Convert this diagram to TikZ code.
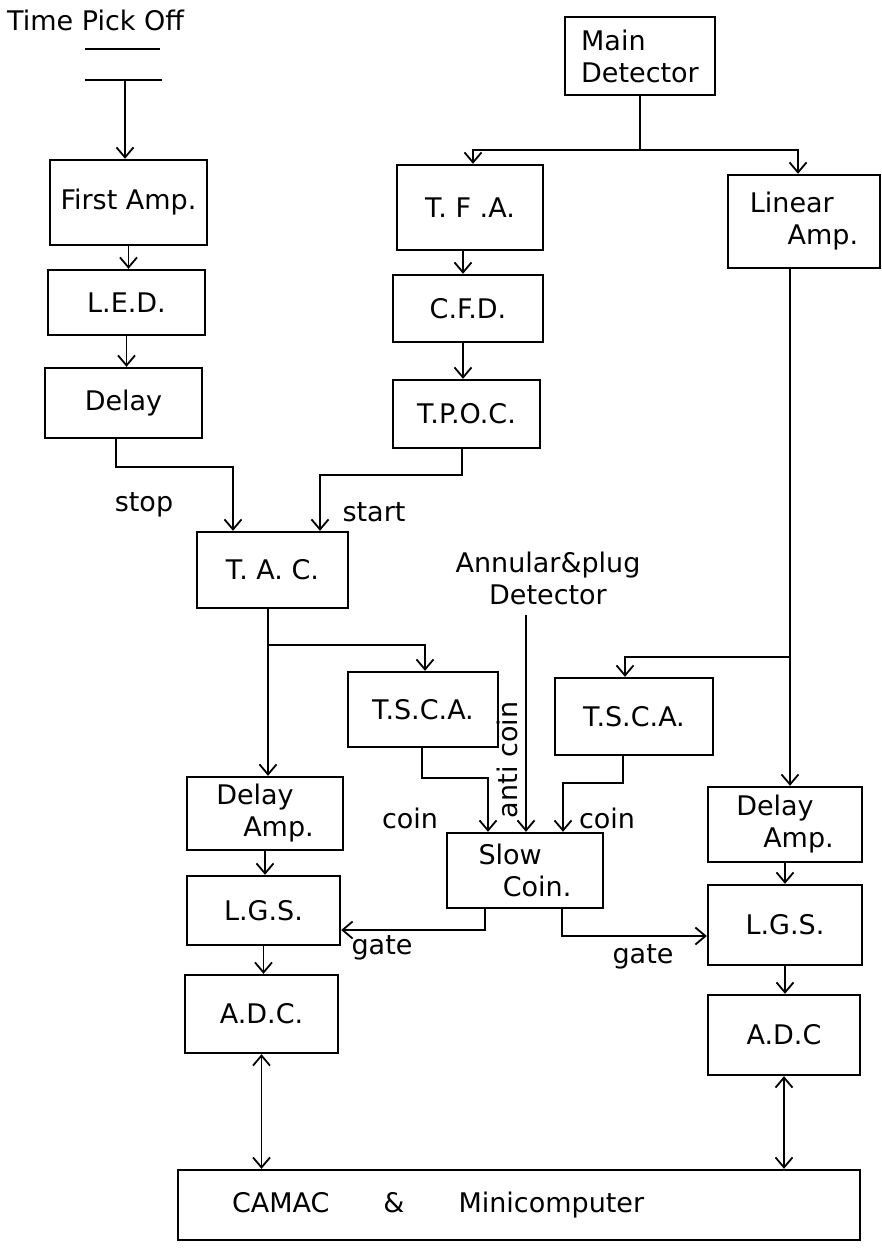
\documentclass[tikz,border=0pt]{standalone}
\usepackage{fontspec}
\setmainfont{DejaVu Sans}
\usetikzlibrary{arrows.meta}
\begin{document}
\begin{tikzpicture}[x=1pt,y=-1pt,
  font=\fontsize{27}{32}\selectfont,
  box/.style={draw, line width=2.4pt, rectangle, inner sep=2pt},
  bx/.style 2 args={box, minimum width=#1pt, minimum height=#2pt},
  arr/.style={line width=1.8pt, -{Straight Barb[length=10pt,width=17pt,line width=1.8pt]}},
  darr/.style={line width=1.8pt, {Straight Barb[length=10pt,width=17pt,line width=1.8pt]}-{Straight Barb[length=10pt,width=17pt,line width=1.8pt]}},
  ln/.style={line width=1.8pt},
  lbl/.style={inner sep=1pt}]
\path[use as bounding box, fill=white] (0,0) rectangle (882,1256);

% title
\node[lbl, anchor=west] (tpo) at (6,20) {Time Pick Off};
\coordinate (ul1) at (85,49);
\coordinate (ul2) at (160,49);
\draw[line width=2.4pt] (ul1) -- (ul2);
\coordinate (bar1) at (85,80);
\coordinate (bar2) at (162,80);
\coordinate (tpb) at (125,80);
\draw[line width=2.4pt] (bar1) -- (bar2);

% left chain
\node[bx={157}{85}] (fa) at (128.5,202.5) {First Amp.};
\node[bx={157}{65}] (led) at (126.5,302.5) {L.E.D.};
\node[bx={157}{70}] (dly) at (123.5,403) {Delay};

% middle chain
\node[bx={150}{78}, align=left] (md) at (640,56) {Main\\Detector};
\node[bx={146}{85}] (tfa) at (470,207.5) {T. F .A.};
\node[bx={150}{67}] (cfd) at (468,308.5) {C.F.D.};
\node[bx={147}{68}] (tpoc) at (466.5,414) {T.P.O.C.};
\node[bx={152}{93}, align=left] (la) at (804,221.5) {Linear\\\hspace*{1.4em}Amp.};

\node[bx={151}{76}] (tac) at (272.5,570) {T. A. C.};
\node[bx={150}{75}] (tscaL) at (423,709.5) {T.S.C.A.};
\node[bx={158}{77}] (tscaR) at (634,716.5) {T.S.C.A.};
\node[lbl, align=center] (ann) at (548,578) {Annular\&plug\\Detector};

\node[bx={156}{73}, align=left] (damL) at (265,813.5) {Delay\\\hspace*{1em}Amp.};
\node[bx={153}{69}] (lgsL) at (263.5,910.5) {L.G.S.};
\node[bx={153}{78}] (adcL) at (261.5,1014) {A.D.C.};

\node[bx={156}{75}, align=left] (sc) at (525,870.5) {Slow\\\hspace*{0.9em}Coin.};

\node[bx={154}{75}, align=left] (damR) at (785,824.5) {Delay\\\hspace*{1em}Amp.};
\node[bx={154}{80}] (lgsR) at (785,925) {L.G.S.};
\node[bx={152}{80}] (adcR) at (784,1035) {A.D.C};

\node[box, minimum height=70pt, text width=574pt, inner xsep=54pt, align=left] (cam) at (519,1205) {CAMAC\hspace{2em}\&\hspace{2em}Minicomputer};

% connectors top-left
\draw[arr] (tpb) -- (tpb |- fa.north);
\draw[arr] (fa.south) -- (fa.south |- led.north);
\draw[arr] (led.south) -- (led.south |- dly.north);

% stop
\coordinate (s1) at (116,467);
\coordinate (s2) at (233,467);
\draw[arr] (dly.south -| s1) -- (s1) -- (s2) -- (tac.north -| s2);
\node[lbl] (stop) at (144,505) {stop};

% main detector split
\coordinate (mdj) at (640,150);
\coordinate (mdl) at (473,150);
\coordinate (mdr) at (798,150);
\draw[ln] (md.south) -- (mdj);
\draw[arr] (mdj) -| (tfa.north -| mdl);
\draw[arr] (mdj) -| (la.north -| mdr);

\coordinate (cx) at (463,0);
\draw[arr] (tfa.south -| cx) -- (cfd.north -| cx);
\draw[arr] (cfd.south -| cx) -- (tpoc.north -| cx);

% start
\coordinate (t1) at (462,475);
\coordinate (t2) at (320,475);
\draw[arr] (tpoc.south -| t1) -- (t1) -- (t2) -- (tac.north -| t2);
\node[lbl] (start) at (374,512) {start};

% TAC outputs
\coordinate (tj) at (268,645);
\coordinate (tl) at (425,645);
\draw[arr] (tac.south -| tj) -- (damL.north -| tj);
\draw[arr] (tj) -| (tscaL.north -| tl);

% linear amp outputs
\coordinate (lj) at (790,657);
\coordinate (lr) at (625,657);
\draw[arr] (la.south -| lj) -- (damR.north -| lj);
\draw[arr] (lj) -| (tscaR.north -| lr);

% into slow coin
\coordinate (c1) at (422,778);
\coordinate (c2) at (488,778);
\draw[arr] (tscaL.south -| c1) -- (c1) -- (c2) -- (sc.north -| c2);
\node[lbl] (coinL) at (410,818) {coin};

\coordinate (ax) at (526,615);
\draw[arr] (ax) -- (sc.north -| ax);
\node[lbl, rotate=90] (anti) at (507,760) {anti coin};

\coordinate (c3) at (623,783);
\coordinate (c4) at (563,783);
\draw[arr] (tscaR.south -| c3) -- (c3) -- (c4) -- (sc.north -| c4);
\node[lbl] (coinR) at (607,818) {coin};

% gates
\coordinate (g1) at (485,930);
\draw[arr] (sc.south -| g1) -- (g1) -- (lgsL.east |- g1);
\node[lbl] (gateL) at (382,948) {gate};
\coordinate (g2) at (562,936);
\draw[arr] (sc.south -| g2) -- (g2) -- (lgsR.west |- g2);
\node[lbl] (gateR) at (643,957) {gate};

% lower chains
\draw[arr] (damL.south) -- (damL.south |- lgsL.north);
\draw[arr] (lgsL.south) -- (lgsL.south |- adcL.north);
\draw[arr] (damR.south) -- (damR.south |- lgsR.north);
\draw[arr] (lgsR.south) -- (lgsR.south |- adcR.north);

\draw[darr] (adcL.south) -- (adcL.south |- cam.north);
\draw[darr] (adcR.south) -- (adcR.south |- cam.north);
\end{tikzpicture}
\end{document}
